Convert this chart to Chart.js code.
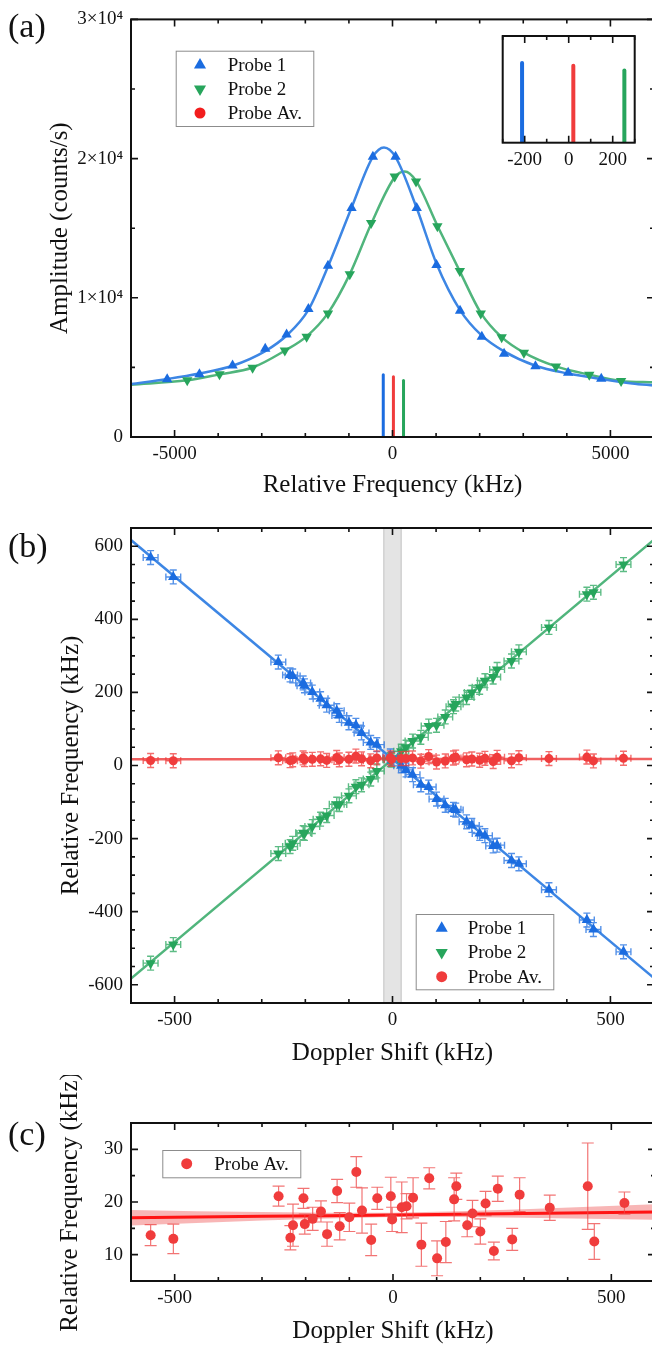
<!DOCTYPE html>
<html>
<head>
<meta charset="utf-8">
<title>Probe line scans and Doppler shift</title>
<script src="https://cdn.jsdelivr.net/npm/chart.js@4.4.1/dist/chart.umd.min.js"></script>
<style>
  html, body { margin: 0; padding: 0; background: #fff; overflow: hidden; }
  #page { position: relative; width: 652px; height: 1348px; overflow: hidden; background: #fff; }
  #page canvas { position: absolute; left: 0; }
</style>
</head>
<body>
<div id="page">
  <canvas id="chartA" width="660" height="510" style="top:0"></canvas>
  <canvas id="chartInset" width="180" height="150" style="left:470px;top:28px"></canvas>
  <canvas id="chartB" width="660" height="570" style="top:505px"></canvas>
  <canvas id="chartC" width="660" height="273" style="top:1075px"></canvas>
</div>
<script>
// ---- data ----
const seriesNames = ['Probe 1', 'Probe 2', 'Probe Av.'];

// (a) line scans, amplitude in counts/s
const scanFreq1 = [-5170, -4430, -3670, -2920, -2430, -1930, -1480, -940, -450, 70, 555, 1010, 1550, 2050, 2560, 3280, 4030, 4790];
const scanAmp1 = [4140, 4500, 5140, 6340, 7360, 9190, 12300, 16450, 20140, 20140, 16450, 12350, 9070, 7210, 5980, 5090, 4620, 4190];
const scanFreq2 = [-4710, -3970, -3210, -2470, -1970, -1480, -980, -490, 50, 540, 1030, 1545, 2025, 2505, 3015, 3750, 4515, 5245];
const scanAmp2 = [4070, 4500, 4980, 6210, 7210, 8880, 11690, 15380, 18710, 18360, 15140, 11930, 8880, 7160, 6050, 5070, 4480, 4020];

// fitted curves
const curveFreq1 = [-6000, -5170, -4430, -3670, -2920, -2430, -1930, -1480, -940, -450, -195, 70, 555, 1010, 1550, 2050, 2560, 3280, 4030, 4790, 5500, 6000];
const curveAmp1 = [3800, 4165, 4560, 5115, 6170, 7290, 9130, 12250, 16470, 20130, 20790, 20110, 16450, 12450, 9120, 7280, 6150, 5115, 4560, 4165, 3850, 3700];
const curveFreq2 = [-6000, -4710, -3970, -3210, -2470, -1970, -1480, -980, -490, 50, 280, 540, 1030, 1545, 2025, 2505, 3015, 3750, 4515, 5245, 6000];
const curveAmp2 = [3760, 4070, 4500, 4990, 6200, 7230, 8900, 11700, 15300, 18650, 19070, 18400, 15180, 11900, 8920, 7170, 6060, 5070, 4480, 4030, 3930];

// resonance positions (kHz) and heights, main panel and inset
const peakCenter = [-212, 253, 21];
const peakHeight = [4480, 4060, 4330];

const ampTicks = [0, 10000, 20000, 30000];
const ampTickLabels = ['0', '1×10⁴', '2×10⁴', '3×10⁴'];
const scanTicks = [-5000, 0, 5000];
const insetTicks = [-200, 0, 200];

// (b), (c) Doppler shift scan, kHz
const dopplerShift = [-555, -503, -262, -235, -229, -205, -202, -184, -165, -151, -128, -122, -100, -84, -71, -50, -36, -5, -2, 20, 31, 46, 65, 83, 101, 121, 140, 145, 170, 182, 200, 212, 231, 240, 273, 290, 359, 446, 461, 530];
const freqProbe1 = [569, 516, 283, 248, 245, 226, 218, 201, 183, 165, 150, 137, 117, 110, 89, 63, 57, 26, 19, -1, -12, -25, -53, -59, -92, -109, -120, -122, -154, -164, -186, -192, -220, -218, -260, -269, -340, -423, -449, -510];
const freqProbe2 = [-541, -490, -241, -222, -213, -184, -186, -167, -147, -137, -106, -107, -83, -58, -53, -37, -15, 16, 15, 39, 50, 67, 77, 108, 110, 133, 161, 168, 186, 200, 214, 232, 242, 263, 286, 311, 378, 469, 474, 550];
const freqProbeAv = [13.7, 13.0, 21.1, 13.2, 15.6, 20.7, 15.8, 16.8, 18.2, 13.9, 22.1, 15.4, 17.1, 25.7, 18.4, 12.8, 20.7, 21.1, 16.7, 19.0, 19.2, 20.8, 11.9, 24.5, 9.3, 12.4, 20.5, 23.0, 15.6, 17.8, 14.4, 19.7, 10.7, 22.5, 12.9, 21.4, 18.9, 23.0, 12.5, 19.8];
const errProbeAv = [2.0, 2.8, 1.9, 2.3, 4.0, 1.9, 1.9, 2.2, 2.0, 2.3, 2.2, 2.6, 2.7, 2.9, 4.3, 3.0, 2.1, 3.6, 2.3, 4.8, 2.4, 3.8, 4.1, 2.0, 3.3, 3.9, 4.1, 2.5, 2.2, 2.5, 2.4, 2.3, 1.7, 2.4, 2.1, 3.2, 2.4, 8.2, 3.4, 2.1];
const errShift = 17;
const errProbe = 19;

// linear fits
const fitShift = [-600, 600];
const fitProbe1 = [617, -582];
const fitProbe2 = [-583, 618];
const bandShift = [-600, -450, -300, -150, 0, 150, 300, 450, 600];
const fitAv = [17.0, 17.14, 17.28, 17.41, 17.55, 17.69, 17.83, 17.96, 18.1];
const fitAvUpper = [18.46, 18.26, 18.09, 17.94, 17.95, 18.22, 18.64, 19.08, 19.56];
const fitAvLower = [15.54, 16.02, 16.47, 16.88, 17.15, 17.16, 17.02, 16.84, 16.64];
const shadedShift = [-20, 20];

const shiftTicks = [-500, 0, 500];
const relFreqTicks = [-600, -400, -200, 0, 200, 400, 600];
const avFreqTicks = [10, 20, 30];

// ---- style ----
const BLUE = '#1b6ce0', BLUE_LINE = '#3d86e4';
const GREEN = '#27a55c', GREEN_LINE = '#50b57c';
const RED = '#f03c3c', RED_LINE = '#f06060';
const SERIF = '"Liberation Serif", "Times New Roman", serif';

Chart.defaults.font.family = SERIF;
Chart.defaults.color = '#111';
Chart.defaults.animation = false;
Chart.defaults.plugins.legend.display = false;
Chart.defaults.plugins.tooltip.enabled = false;

const toXY = (xs, ys) => xs.map((x, i) => ({ x: x, y: ys[i] }));

function drawMarker(ctx, shape, x, y, r, color) {
    ctx.fillStyle = color;
    ctx.beginPath();
    if (shape === 'circle') {
        ctx.arc(x, y, r, 0, Math.PI * 2);
    } else {
        const s = shape === 'down' ? -1 : 1;
        ctx.moveTo(x, y - s * r);
        ctx.lineTo(x + r * 0.866, y + s * r * 0.5);
        ctx.lineTo(x - r * 0.866, y + s * r * 0.5);
        ctx.closePath();
    }
    ctx.fill();
}

// box with inward ticks on all four sides
const framePlugin = {
    id: 'frame',
    afterDatasetsDraw(chart, args, opts) {
        const { ctx, chartArea: a } = chart;
        const xs = chart.scales.x, ys = chart.scales.y;
        ctx.save();
        ctx.strokeStyle = '#111';
        ctx.lineWidth = 1.6;
        ctx.beginPath();
        const marks = (scale, step, len, horizontal) => {
            if (!step) return;
            for (let k = Math.ceil(scale.min / step - 1e-9); k * step <= scale.max + 1e-9; k++) {
                const p = scale.getPixelForValue(k * step);
                if (horizontal) {
                    ctx.moveTo(p, a.bottom); ctx.lineTo(p, a.bottom - len);
                    ctx.moveTo(p, a.top); ctx.lineTo(p, a.top + len);
                } else {
                    ctx.moveTo(a.left, p); ctx.lineTo(a.left + len, p);
                    ctx.moveTo(a.right, p); ctx.lineTo(a.right - len, p);
                }
            }
        };
        marks(xs, opts.xMajor, 7, true);
        marks(xs, opts.xMinor, 4, true);
        marks(ys, opts.yMajor, 7, false);
        marks(ys, opts.yMinor, 4, false);
        ctx.stroke();
        ctx.lineWidth = 2;
        ctx.strokeRect(a.left, a.top, a.right - a.left, a.bottom - a.top);
        ctx.restore();
    }
};

// x / y error bars with caps, drawn under each dataset
const errorBarPlugin = {
    id: 'errorBars',
    beforeDatasetDraw(chart, args) {
        const ds = chart.data.datasets[args.index];
        if (ds.errY === undefined && ds.errX === undefined) return;
        const { ctx, chartArea: a } = chart;
        const xs = chart.scales.x, ys = chart.scales.y;
        const pick = (e, i) => Array.isArray(e) ? e[i] : (e || 0);
        const cap = ds.errCap || 5;
        ctx.save();
        ctx.beginPath();
        ctx.rect(a.left, a.top, a.right - a.left, a.bottom - a.top);
        ctx.clip();
        ctx.strokeStyle = ds.errColor;
        ctx.lineWidth = ds.errWidth || 1.2;
        ctx.beginPath();
        ds.data.forEach((pt, i) => {
            const px = xs.getPixelForValue(pt.x), py = ys.getPixelForValue(pt.y);
            const ey = pick(ds.errY, i), ex = pick(ds.errX, i);
            if (ey) {
                const y0 = ys.getPixelForValue(pt.y - ey), y1 = ys.getPixelForValue(pt.y + ey);
                ctx.moveTo(px, y0); ctx.lineTo(px, y1);
                ctx.moveTo(px - cap, y0); ctx.lineTo(px + cap, y0);
                ctx.moveTo(px - cap, y1); ctx.lineTo(px + cap, y1);
            }
            if (ex) {
                const x0 = xs.getPixelForValue(pt.x - ex), x1 = xs.getPixelForValue(pt.x + ex);
                ctx.moveTo(x0, py); ctx.lineTo(x1, py);
                ctx.moveTo(x0, py - cap); ctx.lineTo(x0, py + cap);
                ctx.moveTo(x1, py - cap); ctx.lineTo(x1, py + cap);
            }
        });
        ctx.stroke();
        ctx.restore();
    }
};

// grey band around zero Doppler shift
const bandPlugin = {
    id: 'band',
    beforeDatasetsDraw(chart, args, opts) {
        if (!opts.range) return;
        const { ctx, chartArea: a, scales: { x } } = chart;
        const x0 = x.getPixelForValue(opts.range[0]), x1 = x.getPixelForValue(opts.range[1]);
        ctx.save();
        ctx.fillStyle = 'rgba(205,205,205,0.55)';
        ctx.fillRect(x0, a.top, x1 - x0, a.bottom - a.top);
        ctx.strokeStyle = 'rgba(175,175,175,0.7)';
        ctx.lineWidth = 1;
        ctx.beginPath();
        ctx.moveTo(x0, a.top); ctx.lineTo(x0, a.bottom);
        ctx.moveTo(x1, a.top); ctx.lineTo(x1, a.bottom);
        ctx.stroke();
        ctx.restore();
    }
};

// panel letter and boxed legend
const annotatePlugin = {
    id: 'annotate',
    afterDraw(chart, args, opts) {
        const { ctx } = chart;
        ctx.save();
        if (opts.panel) {
            ctx.font = '34px ' + SERIF;
            ctx.fillStyle = '#111';
            ctx.textBaseline = 'alphabetic';
            ctx.fillText(opts.panel.text, opts.panel.x, opts.panel.y);
        }
        const lg = opts.legend;
        if (lg) {
            ctx.fillStyle = '#fff';
            ctx.fillRect(lg.left, lg.top, lg.width, lg.height);
            ctx.strokeStyle = '#8c8c8c';
            ctx.lineWidth = 1;
            ctx.strokeRect(lg.left + 0.5, lg.top + 0.5, lg.width, lg.height);
            lg.items.forEach((it, i) => {
                const y = lg.top + lg.firstRow + i * (lg.rowGap || 0);
                drawMarker(ctx, it.shape, lg.left + lg.markerX, y, it.shape === 'circle' ? 5.5 : 7, it.color);
                ctx.fillStyle = '#111';
                ctx.font = '19px ' + SERIF;
                ctx.textBaseline = 'middle';
                ctx.fillText(it.label, lg.left + lg.textX, y + 1);
            });
        }
        ctx.restore();
    }
};

function xAxis(min, max, ticks, title, height, titlePad) {
    return {
        type: 'linear', min: min, max: max,
        grid: { display: false, drawTicks: false },
        border: { display: false },
        afterBuildTicks: s => { s.ticks = ticks.map(v => ({ value: v })); },
        afterFit: s => { s.height = height; },
        ticks: { font: { size: 19 }, padding: 6, maxRotation: 0, autoSkip: false, callback: v => String(v) },
        title: title ? { display: true, text: title, font: { size: 25 }, padding: { top: 0, bottom: titlePad } } : { display: false }
    };
}

function yAxis(min, max, ticks, labels, title, titlePad) {
    return {
        type: 'linear', min: min, max: max,
        grid: { display: false, drawTicks: false },
        border: { display: false },
        afterBuildTicks: s => { s.ticks = ticks.map(v => ({ value: v })); },
        afterFit: s => { s.width = 131; },
        ticks: { font: { size: 19 }, padding: 8, autoSkip: false, callback: v => labels ? labels[ticks.indexOf(v)] : String(v) },
        title: { display: true, text: title, font: { size: 25 }, padding: { top: titlePad, bottom: 0 } }
    };
}

function lineSet(xs, ys, color, width, extra) {
    return Object.assign({
        data: toXY(xs, ys), showLine: true, borderColor: color, borderWidth: width,
        pointRadius: 0, fill: false, order: 5
    }, extra || {});
}

function pointSet(xs, ys, color, style, radius, extra) {
    return Object.assign({
        data: toXY(xs, ys), showLine: false, backgroundColor: color, borderColor: color,
        borderWidth: 0, pointStyle: style, pointRadius: radius, order: 2
    }, extra || {});
}

// ---- (a) line scans ----
const peakColors = [BLUE, GREEN, RED];
const peakBars = (w) => peakCenter.map((c, i) => lineSet([c, c], [0, peakHeight[i]], peakColors[i], w, { borderCapStyle: 'round' }));

new Chart(document.getElementById('chartA'), {
    type: 'scatter',
    data: {
        datasets: [
            pointSet(scanFreq1, scanAmp1, BLUE, 'triangle', 6, { order: 1 }),
            pointSet(scanFreq2, scanAmp2, GREEN, 'triangle', 6, { order: 1, pointRotation: 180 }),
            lineSet(curveFreq1, curveAmp1, BLUE_LINE, 2.5, { cubicInterpolationMode: 'monotone' }),
            lineSet(curveFreq2, curveAmp2, GREEN_LINE, 2.5, { cubicInterpolationMode: 'monotone' })
        ].concat(peakBars(3))
    },
    options: {
        responsive: false,
        layout: { padding: { top: 16, left: 0, right: 4, bottom: 0 } },
        scales: {
            x: xAxis(-6000, 6000, scanTicks, 'Relative Frequency (kHz)', 73, 10),
            y: yAxis(0, 30000, ampTicks, ampTickLabels, 'Amplitude (counts/s)', 45)
        },
        plugins: {
            frame: { xMajor: 5000, xMinor: 1000, yMajor: 10000, yMinor: 5000 },
            annotate: {
                panel: { text: '(a)', x: 8, y: 37 },
                legend: {
                    left: 175.7, top: 50.7, width: 137.6, height: 75.3, markerX: 24.3, textX: 52, firstRow: 14.3, rowGap: 24,
                    items: [
                        { label: seriesNames[0], shape: 'up', color: BLUE },
                        { label: seriesNames[1], shape: 'down', color: GREEN },
                        { label: seriesNames[2], shape: 'circle', color: '#f21d1d' }
                    ]
                }
            }
        }
    },
    plugins: [framePlugin, annotatePlugin]
});

// inset: resonance positions
new Chart(document.getElementById('chartInset'), {
    type: 'scatter',
    data: { datasets: peakBars(4) },
    options: {
        responsive: false,
        layout: { padding: { top: 8, left: 32.7, right: 15.3, bottom: 0 } },
        scales: {
            x: xAxis(-300, 300, insetTicks, null, 35.3, 0),
            y: { display: false, min: 0, max: 6000 }
        },
        plugins: { frame: { xMajor: 200, xMinor: 100 } }
    },
    plugins: [framePlugin]
});

// ---- (b) relative frequency vs Doppler shift ----
new Chart(document.getElementById('chartB'), {
    type: 'scatter',
    data: {
        datasets: [
            lineSet(fitShift, fitProbe1, BLUE_LINE, 2.5),
            lineSet(fitShift, fitProbe2, GREEN_LINE, 2.5),
            lineSet(bandShift, fitAv, RED_LINE, 2.5),
            pointSet(dopplerShift, freqProbe1, BLUE, 'triangle', 6,
                { order: 3, errX: errShift, errY: errProbe, errCap: 3.5, errWidth: 1.4, errColor: 'rgba(27,108,224,0.75)' }),
            pointSet(dopplerShift, freqProbe2, GREEN, 'triangle', 6,
                { order: 2, pointRotation: 180, errX: errShift, errY: errProbe, errCap: 3.5, errWidth: 1.4, errColor: 'rgba(39,165,92,0.75)' }),
            pointSet(dopplerShift, freqProbeAv, RED, 'circle', 4.5,
                { order: 1, errX: errShift, errY: errProbe, errCap: 3.5, errWidth: 1.4, errColor: 'rgba(240,60,60,0.75)' })
        ]
    },
    options: {
        responsive: false,
        layout: { padding: { top: 23, left: 0, right: 4, bottom: 0 } },
        scales: {
            x: xAxis(-600, 600, shiftTicks, 'Doppler Shift (kHz)', 72, 6.4),
            y: yAxis(-650, 650, relFreqTicks, null, 'Relative Frequency (kHz)', 56)
        },
        plugins: {
            frame: { xMajor: 500, xMinor: 100, yMajor: 200, yMinor: 50 },
            band: { range: shadedShift },
            annotate: {
                panel: { text: '(b)', x: 8, y: 52 },
                legend: {
                    left: 415.7, top: 409, width: 137.6, height: 75.3, markerX: 26, textX: 52, firstRow: 14.3, rowGap: 24.2,
                    items: [
                        { label: seriesNames[0], shape: 'up', color: BLUE },
                        { label: seriesNames[1], shape: 'down', color: GREEN },
                        { label: seriesNames[2], shape: 'circle', color: RED }
                    ]
                }
            }
        }
    },
    plugins: [bandPlugin, errorBarPlugin, framePlugin, annotatePlugin]
});

// ---- (c) probe average with linear fit and confidence band ----
new Chart(document.getElementById('chartC'), {
    type: 'scatter',
    data: {
        datasets: [
            pointSet(dopplerShift, freqProbeAv, RED, 'circle', 5,
                { order: 1, errY: errProbeAv, errCap: 6, errColor: 'rgba(238,70,70,0.75)' }),
            lineSet(bandShift, fitAv, '#ff1414', 3, { order: 3 }),
            lineSet(bandShift, fitAvUpper, 'rgba(0,0,0,0)', 0,
                { order: 4, fill: '+1', backgroundColor: 'rgba(242,110,110,0.5)' }),
            lineSet(bandShift, fitAvLower, 'rgba(0,0,0,0)', 0, { order: 4 })
        ]
    },
    options: {
        responsive: false,
        layout: { padding: { top: 48, left: 0, right: 4, bottom: 0 } },
        scales: {
            x: xAxis(-600, 600, shiftTicks, 'Doppler Shift (kHz)', 67, 1.4),
            y: yAxis(5, 35, avFreqTicks, null, 'Relative Frequency (kHz)', 55)
        },
        plugins: {
            frame: { xMajor: 500, xMinor: 100, yMajor: 10, yMinor: 5 },
            filler: { propagate: false },
            annotate: {
                panel: { text: '(c)', x: 8, y: 70 },
                legend: {
                    left: 162.3, top: 75, width: 138, height: 27.3, markerX: 24.4, textX: 52, firstRow: 13.7,
                    items: [{ label: seriesNames[2], shape: 'circle', color: RED }]
                }
            }
        }
    },
    plugins: [errorBarPlugin, framePlugin, annotatePlugin]
});
</script>
</body>
</html>
